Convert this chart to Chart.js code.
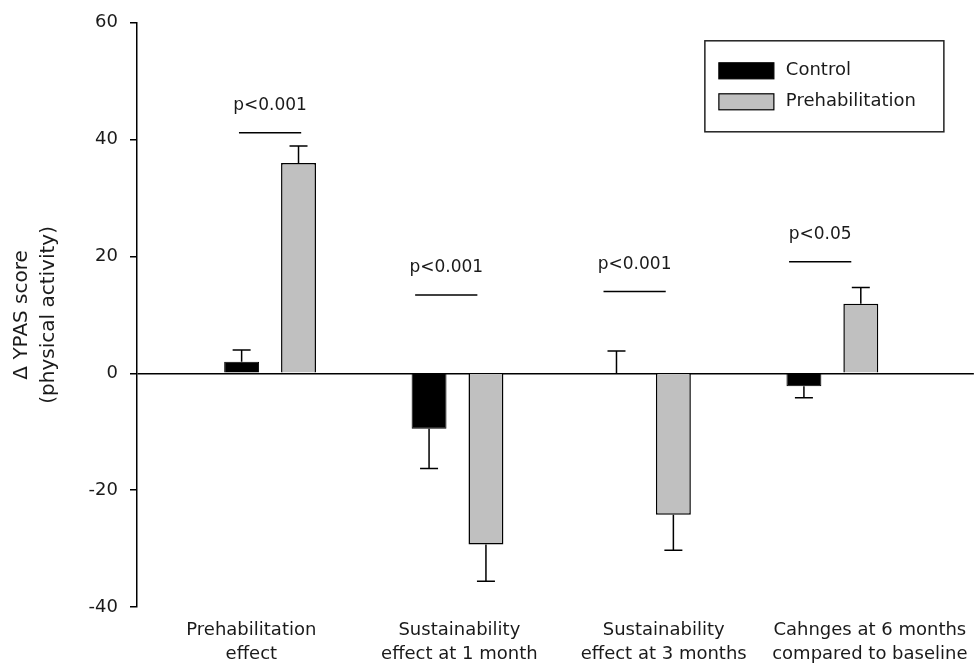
<!DOCTYPE html>
<html>
<head>
<meta charset="utf-8">
<script src="https://cdn.jsdelivr.net/npm/chart.js@4.4.1/dist/chart.umd.min.js"></script>
<style>
  html, body { margin: 0; padding: 0; background: #fff; }
  #wrap { width: 979px; height: 669px; }
</style>
</head>
<body>
<div id="wrap"><canvas id="chart"></canvas></div>
<script>
// data
const categories = [
    ['Prehabilitation', 'effect'],
    ['Sustainability', 'effect at 1 month'],
    ['Sustainability', 'effect at 3 months'],
    ['Cahnges at 6 months', 'compared to baseline']
];
const controlMean = [2, -9.5, 0, -2.2];
const controlErr = [2, 6.8, 3.8, 2];
const prehabMean = [36, -29.3, -24.2, 11.9];
const prehabErr = [2.9, 6.3, 6.1, 2.8];
const pLabels = ['p<0.001', 'p<0.001', 'p<0.001', 'p<0.05'];
const pLineAt = [41.2, 13.4, 14.0, 19.1];

// layout tweaks
const labelPos = [-0.1, 1.01, 2.1, 3.2];
const sigShift = [0, -0.06, -0.055, -0.065];
const FONT = 'DejaVu Sans';
const INK = '#1a1a1a';

const toPoints = arr => arr.map((v, i) => ({ x: i, y: v }));

// one-sided error bars, pointing away from zero
const errorBars = {
    id: 'errorBars',
    afterDatasetsDraw(chart) {
        const ctx = chart.ctx;
        const y = chart.scales.y;
        chart.data.datasets.forEach((ds, di) => {
            const meta = chart.getDatasetMeta(di);
            meta.data.forEach((bar, i) => {
                const v = ds.data[i].y;
                const dir = v < 0 ? -1 : 1;
                const y0 = y.getPixelForValue(v);
                const y1 = y.getPixelForValue(v + dir * ds.errors[i]);
                ctx.save();
                ctx.strokeStyle = '#000';
                ctx.lineWidth = 1.5;
                ctx.beginPath();
                ctx.moveTo(bar.x, y0);
                ctx.lineTo(bar.x, y1);
                ctx.moveTo(bar.x - 9, y1);
                ctx.lineTo(bar.x + 9, y1);
                ctx.stroke();
                ctx.restore();
            });
        });
    }
};

// significance lines with p labels
const sigMarks = {
    id: 'sigMarks',
    afterDatasetsDraw(chart) {
        const ctx = chart.ctx;
        const { x, y } = chart.scales;
        ctx.save();
        ctx.strokeStyle = '#000';
        ctx.lineWidth = 1.5;
        ctx.fillStyle = INK;
        ctx.font = '17px ' + FONT;
        ctx.textAlign = 'center';
        ctx.textBaseline = 'middle';
        pLabels.forEach((lbl, i) => {
            const cx = x.getPixelForValue(i + sigShift[i]);
            const half = (x.getPixelForValue(1) - x.getPixelForValue(0)) * 0.166;
            const ly = y.getPixelForValue(pLineAt[i]);
            ctx.beginPath();
            ctx.moveTo(cx - half, ly);
            ctx.lineTo(cx + half, ly);
            ctx.stroke();
            ctx.fillText(lbl, cx, ly - 27);
        });
        ctx.restore();
    }
};

// boxed legend in the top right corner
const boxLegend = {
    id: 'boxLegend',
    afterDraw(chart) {
        const ctx = chart.ctx;
        const area = chart.chartArea;
        const right = area.right - 30, top = area.top + 18;
        const left = right - 239, bottom = top + 91;
        ctx.save();
        ctx.strokeStyle = '#222';
        ctx.lineWidth = 1.5;
        ctx.strokeRect(left, top, right - left, bottom - top);
        ctx.font = '18px ' + FONT;
        ctx.textBaseline = 'middle';
        chart.data.datasets.forEach((ds, i) => {
            const sy = top + 22 + i * 31;
            ctx.fillStyle = ds.backgroundColor;
            ctx.fillRect(left + 14, sy, 55, 16);
            ctx.strokeStyle = '#000';
            ctx.lineWidth = 1.2;
            ctx.strokeRect(left + 14, sy, 55, 16);
            ctx.fillStyle = INK;
            ctx.fillText(ds.label, left + 81, sy + 8);
        });
        ctx.restore();
    }
};

new Chart(document.getElementById('chart'), {
    type: 'bar',
    data: {
        datasets: [{
            label: 'Control',
            data: toPoints(controlMean),
            errors: controlErr,
            backgroundColor: '#000000',
            borderColor: '#000000',
            borderWidth: 1
        }, {
            label: 'Prehabilitation',
            data: toPoints(prehabMean),
            errors: prehabErr,
            backgroundColor: '#c0c0c0',
            borderColor: '#000000',
            borderWidth: 1.5
        }]
    },
    options: {
        responsive: true,
        maintainAspectRatio: false,
        animation: false,
        categoryPercentage: 0.607,
        barPercentage: 0.614,
        layout: { padding: { top: 19, right: 4, left: 0, bottom: 0 } },
        plugins: {
            legend: { display: false },
            tooltip: { enabled: false }
        },
        scales: {
            x: {
                type: 'linear',
                offset: false,
                min: -0.71,
                max: 3.755,
                grid: { display: false, drawTicks: false, offset: false },
                border: { display: false },
                afterBuildTicks: s => { s.ticks = labelPos.map(v => ({ value: v })); },
                afterFit: s => { s.height = 62; },
                ticks: {
                    autoSkip: false,
                    maxRotation: 0,
                    padding: 11,
                    color: INK,
                    font: { family: FONT, size: 18, lineHeight: 1.35 },
                    callback: (v, i) => categories[i]
                }
            },
            y: {
                min: -40,
                max: 60,
                afterFit: s => { s.width = 137; },
                border: { display: true, color: '#000', width: 1.5 },
                grid: {
                    color: c => (c.tick && c.tick.value === 0 ? '#000' : 'rgba(0,0,0,0)'),
                    lineWidth: 1.5,
                    tickColor: '#000',
                    tickWidth: 1.5,
                    tickLength: 7
                },
                ticks: {
                    stepSize: 20,
                    padding: 12,
                    color: INK,
                    font: { family: FONT, size: 18 }
                },
                title: {
                    display: true,
                    text: ['Δ YPAS score', '(physical activity)'],
                    color: INK,
                    font: { family: FONT, size: 20, lineHeight: 1.35 },
                    padding: { top: 8, bottom: 0 }
                }
            }
        }
    },
    plugins: [errorBars, sigMarks, boxLegend]
});
</script>
</body>
</html>
